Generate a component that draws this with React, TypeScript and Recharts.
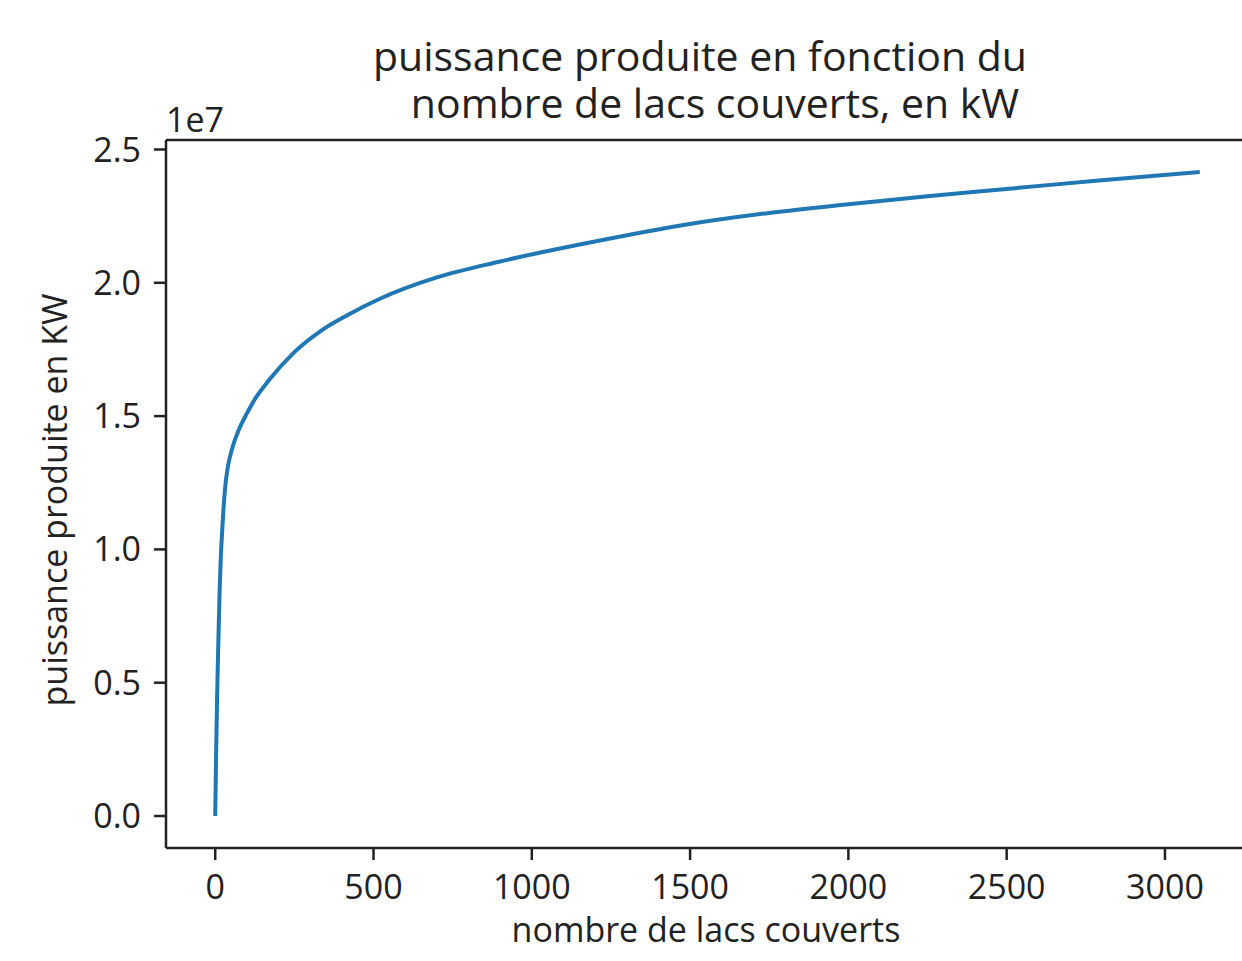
import { LineChart, Line, XAxis, YAxis, ReferenceLine } from "recharts";

// nombre de lacs couverts
const lakes = [0, 3, 6, 10, 14, 18, 22, 26, 32, 40, 54, 75, 100, 126, 170, 250, 334, 420, 520, 700, 900, 1200, 1470, 1750, 2000, 2250, 2500, 2800, 3110];
// puissance produite, en 1e7 kW
const power = [0, 0.25, 0.45, 0.66, 0.85, 0.98, 1.07, 1.15, 1.24, 1.31, 1.38, 1.45, 1.51, 1.565, 1.635, 1.74, 1.82, 1.88, 1.94, 2.02, 2.08, 2.155, 2.215, 2.262, 2.295, 2.325, 2.352, 2.385, 2.416];

const xTicks = [0, 500, 1000, 1500, 2000, 2500, 3000];
const yTicks = [0, 0.5, 1.0, 1.5, 2.0, 2.5];

const data = lakes.map((n, i) => ({ n, p: power[i] }));

const FONT = "'Open Sans', 'DejaVu Sans', sans-serif";
const INK = "#222";
const tick = { fill: INK, fontSize: 34, fontFamily: FONT };

export default function App() {
  return (
    <div style={{ position: "fixed", left: 0, top: 0, width: 1242, height: 961, overflow: "hidden", background: "#fff" }}>
      <LineChart width={1270} height={961} data={data} margin={{ top: 140, right: 21, left: 0, bottom: 0 }}>
        <XAxis dataKey="n" type="number" domain={[-155.5, 3265.5]} ticks={xTicks} allowDataOverflow
          height={113} tick={tick} tickSize={12} tickMargin={15}
          axisLine={{ stroke: INK, strokeWidth: 2.5 }} tickLine={{ stroke: INK, strokeWidth: 2.5 }} />
        <YAxis type="number" domain={[-0.12, 2.5356]} ticks={yTicks} allowDataOverflow
          width={166} tick={tick} tickSize={12} tickMargin={13}
          tickFormatter={(v: number) => v.toFixed(1)}
          axisLine={{ stroke: INK, strokeWidth: 2.5 }} tickLine={{ stroke: INK, strokeWidth: 2.5 }} />
        <ReferenceLine y={2.5356} stroke={INK} strokeWidth={2.5} />
        <Line type="monotone" dataKey="p" stroke="#1f77b4" strokeWidth={4} dot={false} isAnimationActive={false} />
      </LineChart>
      <svg width={1242} height={961} style={{ position: "absolute", left: 0, top: 0, pointerEvents: "none" }}
        fontFamily={FONT} fill={INK}>
        <text x={700} y={71} fontSize={41} textAnchor="middle">puissance produite en fonction du</text>
        <text x={715} y={118} fontSize={41} textAnchor="middle">nombre de lacs couverts, en kW</text>
        <text x={166} y={132} fontSize={34}>1e7</text>
        <text x={706} y={942} fontSize={34} textAnchor="middle">nombre de lacs couverts</text>
        <text x={67} y={500} fontSize={34} textAnchor="middle" transform="rotate(-90, 67, 500)">puissance produite en KW</text>
      </svg>
    </div>
  );
}
